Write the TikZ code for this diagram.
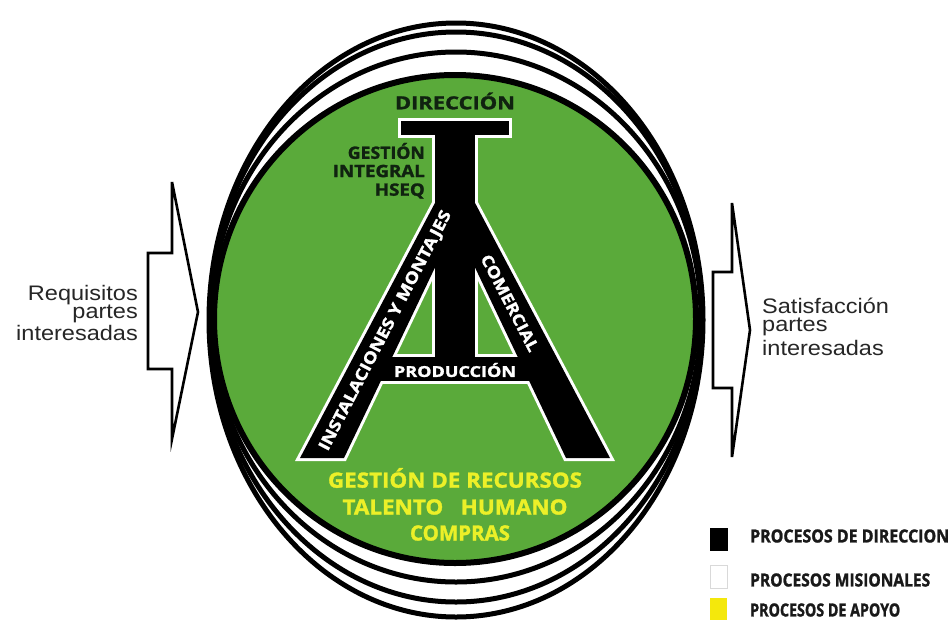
\documentclass[tikz,border=0pt]{standalone}
\usepackage{fontspec}
\usepackage{graphicx}
\setmainfont{Liberation Sans}
\newfontfamily\bfam{Open Sans}[BoldFeatures={FakeBold=1.5}]
\definecolor{gr}{RGB}{90,170,58}
\definecolor{ylw}{RGB}{236,240,40}
\definecolor{dk}{RGB}{16,34,16}
\newcommand\fitw[2]{\resizebox{#1pt}{\height}{#2}}
\newcommand\sidew[1]{\scalebox{1.12}[1]{#1}}
\newcommand\towerpass[1]{%
  \path[#1] (401,121) rectangle (509,135);
  \path[#1] (435,130) rectangle (475,370);
  \path[#1] (436,201) -- (300,458) -- (344,458) -- (440,257) -- (440,201) -- cycle;
  \path[#1] (474,201) -- (610,458) -- (566,458) -- (470,257) -- (470,201) -- cycle;
  \path[#1] (365,357) rectangle (545,381);}
\tikzset{
  ring/.style={draw=black, line width=5},
  towerline/.style={draw=white, line width=6, line join=miter},
  towerfill/.style={fill=black},
  arrowbox/.style={draw=black, line width=2.6, fill=white, line join=miter},
  sidetext/.style={inner sep=0, font=\fontsize{21}{21}\selectfont, text=black!85},
  towertext/.style={inner sep=0, font=\bfam\bfseries\fontsize{16}{16}\selectfont, text=white},
  darktext/.style={inner sep=0, font=\bfam\bfseries\fontsize{17}{17}\selectfont, text=dk},
  yellowtext/.style={inner sep=0, font=\bfam\bfseries\fontsize{21}{21}\selectfont, text=ylw},
  legtext/.style={inner sep=0, anchor=west, font=\bfam\bfseries\fontsize{18}{18}\selectfont, text=black!90},
  legbox/.style={line width=0.8}
}
\begin{document}
\begin{tikzpicture}[x=1pt,y=-1pt]
\useasboundingbox (0,0) rectangle (951,627);
\fill[white] (0,0) rectangle (951,627);

% rings
\draw[ring] (456,320) ellipse [x radius=247, y radius=297];
\draw[ring] (456,317) ellipse [x radius=246, y radius=285];
\draw[ring] (456,317) ellipse [x radius=245, y radius=265];
\draw[line width=6, fill=gr] (455,319) ellipse [x radius=241, y radius=244];

% tower
\towerpass{towerline}
\towerpass{towerfill}

% arrows
\draw[arrowbox] (148,253) coordinate (la1) -- (172,253) -- (172,182) -- (198,312) coordinate (latip) -- (172,439) -- (172,369) -- (148,369) -- cycle;
\draw[arrowbox] (713,272) coordinate (ra1) -- (732,272) -- (732,203) -- (750,330) coordinate (ratip) -- (732,457) -- (732,388) -- (713,388) -- cycle;

% side texts
\node[sidetext, anchor=east] (rq1) at (138,295) {\sidew{Requisitos}};
\node[sidetext, anchor=east] (rq2) at (138,314) {\sidew{partes}};
\node[sidetext, anchor=east] (rq3) at (138,333) {\sidew{interesadas}};
\node[sidetext, anchor=west] (st1) at (762,306) {\sidew{Satisfacción}};
\node[sidetext, anchor=west] (st2) at (762,327) {\sidew{partes}};
\node[sidetext, anchor=west] (st3) at (762,348) {\sidew{interesadas}};

% tower texts
\node[darktext, font=\bfam\bfseries\fontsize{18}{18}\selectfont] (dir) at (455,101) {\fitw{120}{DIRECCIÓN}};
\node[darktext, anchor=east] (g1) at (425,151) {\fitw{77}{GESTIÓN}};
\node[darktext, anchor=east] (g2) at (425,171) {\fitw{92}{INTEGRAL}};
\node[darktext, anchor=east] (g3) at (425,191) {\fitw{50}{HSEQ}};
\node[towertext, font=\bfam\bfseries\fontsize{15}{15}\selectfont] (prod) at (455,370) {\fitw{122}{PRODUCCIÓN}};
\node[towertext, rotate=62.5] (inst) at (386,331) {\fitw{268}{INSTALACIONES Y MONTAJES}};
\node[towertext, rotate=-62.5] (com) at (510,303) {\fitw{107}{COMERCIAL}};

% support texts
\node[yellowtext] (gr1) at (455,478) {\fitw{254}{GESTIÓN DE RECURSOS}};
\node[yellowtext] (gr2) at (455,507) {\fitw{225}{TALENTO\ \ \ HUMANO}};
\node[yellowtext] (gr3) at (460,533) {\fitw{100}{COMPRAS}};

% legend
\draw[legbox, fill=black] (710,528) rectangle (727,550);
\draw[legbox, draw=black!15, fill=white] (710,565) rectangle (727,588);
\fill[yellow!95!black] (710,598) rectangle (727,620);
\node[legtext] (l1) at (750,536) {\fitw{199}{PROCESOS DE DIRECCION}};
\node[legtext] (l2) at (750,580) {\fitw{180}{PROCESOS MISIONALES}};
\node[legtext] (l3) at (750,610) {\fitw{150}{PROCESOS DE APOYO}};
\end{tikzpicture}
\end{document}
